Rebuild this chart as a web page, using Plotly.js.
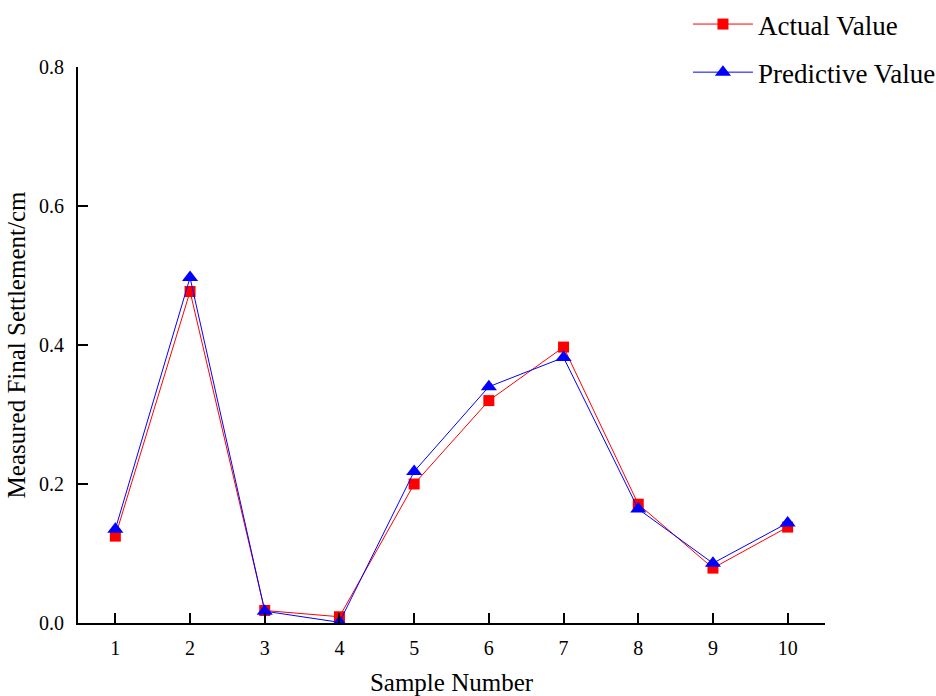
<!DOCTYPE html>
<html>
<head>
<meta charset="utf-8">
<script src="https://cdn.plot.ly/plotly-3.0.1.min.js"></script>
<style>html,body{margin:0;padding:0;background:#fff;}#chart{width:936px;height:696px;}</style>
</head>
<body>
<div id="chart"></div>
<script>
const samples = [1, 2, 3, 4, 5, 6, 7, 8, 9, 10];
const actualValue = [0.125, 0.477, 0.018, 0.009, 0.200, 0.320, 0.397, 0.171, 0.079, 0.138];
const predictiveValue = [0.135, 0.497, 0.017, 0.001, 0.218, 0.340, 0.382, 0.164, 0.086, 0.144];
const yTicks = [0.0, 0.2, 0.4, 0.6, 0.8];

const font = "Liberation Serif";

const traces = [
  {
    x: samples, y: actualValue, name: "Actual Value", type: "scatter", mode: "lines+markers",
    line: {color: "#ff0000", width: 1},
    marker: {symbol: "square", size: 11, color: "#ff0000"},
    legendgroup: "a"
  },
  {
    x: samples, y: predictiveValue, name: "Predictive Value", type: "scatter", mode: "lines+markers",
    line: {color: "#0000ff", width: 1},
    marker: {symbol: "triangle-up", size: 14, color: "#0000ff"},
    legendgroup: "b"
  }
];

const layout = {
  width: 936, height: 696,
  margin: {l: 78, r: 111, t: 67, b: 73, autoexpand: false},
  paper_bgcolor: "#fff", plot_bgcolor: "#fff",
  font: {family: font, color: "#000", size: 20},
  showlegend: true,
  legend: {
    x: 0.735, xanchor: "left", y: 1.0, yanchor: "top",
    xref: "container", yref: "container",
    font: {family: font, size: 27, color: "#000"},
    traceorder: "grouped", tracegroupgap: 10,
    itemwidth: 60, bgcolor: "rgba(0,0,0,0)"
  },
  xaxis: {
    range: [0.5, 10.5], tickvals: samples, ticktext: samples.map(String),
    showgrid: false, zeroline: false, showline: true, linecolor: "#000", linewidth: 2,
    ticks: "inside", ticklen: 10, tickwidth: 2, tickcolor: "#000",
    tickfont: {family: font, size: 20}, ticklabelstandoff: 6,
    title: {text: "Sample Number", font: {family: font, size: 25}, standoff: 30}
  },
  yaxis: {
    range: [0, 0.8], tickvals: yTicks, tickformat: ".1f",
    showgrid: false, zeroline: false, showline: true, linecolor: "#000", linewidth: 2,
    ticks: "inside", ticklen: 10, tickwidth: 2, tickcolor: "#000",
    tickfont: {family: font, size: 20}, ticklabelstandoff: 8,
    title: {text: "Measured Final Settlement/cm", font: {family: font, size: 25}, standoff: 6}
  }
};

Plotly.newPlot("chart", traces, layout, {displayModeBar: false, staticPlot: true});
</script>
</body>
</html>
